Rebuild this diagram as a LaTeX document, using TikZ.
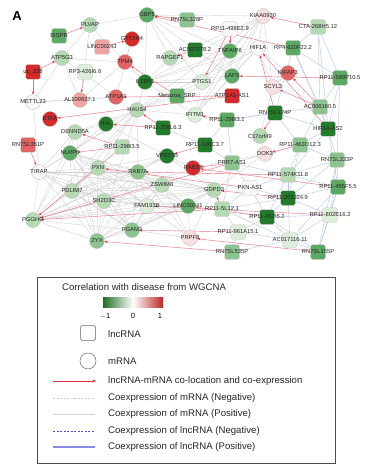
\documentclass[tikz,border=0pt]{standalone}
\usepackage{fontspec}
\setmainfont{Liberation Sans}
\usetikzlibrary{backgrounds,arrows.meta}
\definecolor{gA}{HTML}{237A2B}
\definecolor{gB}{HTML}{5DA862}
\definecolor{gC}{HTML}{8DC38F}
\definecolor{gD}{HTML}{B5D9B3}
\definecolor{gE}{HTML}{DCEDDA}
\definecolor{wN}{HTML}{F7F7F7}
\definecolor{rA}{HTML}{F8E0E0}
\definecolor{rB}{HTML}{EFA3A3}
\definecolor{rC}{HTML}{E06464}
\definecolor{rD}{HTML}{D42A2A}
\definecolor{redge}{HTML}{EC7480}
\definecolor{rtip}{HTML}{E03040}
\definecolor{bedge}{HTML}{B4C6EC}
\definecolor{gedgec}{HTML}{CFCFCF}
\definecolor{bdash}{HTML}{5050C8}
\definecolor{bsolid}{HTML}{8888E0}
\tikzset{
  lbl/.style={font=\fontsize{5.8}{6}\selectfont, text=black!85, inner sep=0},
  mr/.style={circle, draw=gray!55, line width=0.3pt, minimum size=15, inner sep=0},
  lr/.style={rectangle, rounded corners=1.5, draw=gray!55, line width=0.3pt, minimum size=14.5, inner sep=0},
  gedge/.style={draw=gedgec, line width=0.35pt},
  bedgest/.style={draw=bedge, line width=0.4pt},
  redgest/.style={draw=redge, line width=0.45pt, -{Stealth[length=3pt,width=2.4pt,color=rtip]}},
  legtxt/.style={font=\fontsize{9.6}{10}\selectfont, anchor=west, inner sep=0, text=black!85},
}
\newcommand{\mnode}[5]{\node[mr,fill=#2,label={[lbl]center:#5}] (#1) at (#3,#4) {};}
\newcommand{\lnode}[5]{\node[lr,fill=#2,label={[lbl]center:#5}] (#1) at (#3,#4) {};}
\begin{document}
\begin{tikzpicture}[x=1pt,y=-1pt]
\useasboundingbox (0,0) rectangle (366,470);
\node[font=\bfseries\fontsize{13}{13}\selectfont, inner sep=0] (lblA) at (17,16) {A};
% nodes
\mnode{plvap}{gD}{90}{25}{PLVAP}
\lnode{bispr}{gB}{59}{36}{BISPR}
\mnode{gbp5}{gB}{147}{15}{GBP5}
\lnode{rn328}{gC}{187}{20}{RN7SL328P}
\lnode{rp498}{wN}{230}{29}{RP11-498E2.9}
\mnode{kiaa}{rA}{263}{16}{KIAA0930}
\lnode{cta}{gD}{318}{27}{CTA-268H5.12}
\lnode{linc243}{rB}{102}{47}{LINC00243}
\mnode{gtf}{rD}{132}{39}{GTF2H4}
\mnode{atp5g}{gD}{62}{58}{ATP5G3}
\lnode{ac278}{gA}{195}{50}{AC007278.2}
\mnode{tnfaip}{gB}{230}{51}{TNFAIP6}
\mnode{hif}{wN}{258}{48}{HIF1A}
\lnode{rp4}{gB}{293}{48}{RP4-620F22.2}
\lnode{uc}{rD}{33}{72}{uc\_338}
\lnode{rp3}{gE}{85}{72}{RP3-426I6.6}
\mnode{tpm}{rC}{125}{62}{TPM4}
\mnode{rapgef}{gD}{170}{58}{RAPGEF1}
\mnode{kifap}{rC}{288}{73}{KIFAP3}
\mnode{lap}{gB}{232}{76}{LAP3}
\lnode{rp589}{gB}{340}{78}{RP11-589P10.5}
\mnode{il18}{gA}{145}{82}{IL18R1}
\mnode{ptgs}{gE}{202}{82}{PTGS1}
\mnode{scyl}{rA}{273}{87}{SCYL3}
\mnode{mettl}{wN}{33}{102}{METTL23}
\mnode{al109}{rB}{80}{100}{AL109927.1}
\mnode{atp1a}{rC}{116}{97}{ATP1A1}
\lnode{meta}{gB}{177}{96}{Metazoa\_SRP}
\lnode{atpas}{rD}{232}{96}{ATP1A1-AS1}
\lnode{ac160}{gC}{320}{107}{AC006160.5}
\mnode{etfa}{rD}{50}{119}{ETFA}
\mnode{haus}{gD}{137}{110}{HAUS4}
\mnode{ifitm}{gE}{195}{115}{IFITM1}
\lnode{rn124}{gA}{275}{113}{RN7SL124P}
\mnode{hal}{gA}{106}{124}{HAL}
\lnode{rp298b}{gB}{227}{120}{RP11-298I3.1}
\lnode{rp258}{gA}{163}{128}{RP11-258L6.3}
\mnode{denn}{gD}{75}{132}{DENND5A}
\lnode{hifas}{gA}{328}{129}{HIF1A-AS2}
\mnode{c17}{gD}{260}{136}{C17orf49}
\lnode{rn351}{rC}{28}{145}{RN7SL351P}
\lnode{rp298}{gD}{122}{147}{RP11-298I3.5}
\lnode{rp326}{gA}{205}{145}{RP11-326C3.7}
\lnode{rp463}{gC}{300}{145}{RP11-463O12.3}
\mnode{nlrp}{gB}{70}{153}{NLRP6}
\mnode{vps}{gA}{167}{156}{VPS37B}
\mnode{dok}{rA}{265}{154}{DOK3}
\lnode{rn333}{gC}{337}{160}{RN7SL333P}
\lnode{prr}{gC}{232}{163}{PRR7-AS1}
\mnode{pxn}{gD}{98}{168}{PXN}
\mnode{rab37}{rD}{193}{168}{RAB37}
\mnode{tirap}{wN}{39}{172}{TIRAP}
\mnode{rab7}{gC}{138}{172}{RAB7A}
\lnode{rp574}{gD}{288}{175}{RP11-574K11.8}
\mnode{zswim}{gD}{162}{185}{ZSWIM8}
\lnode{pxnas}{wN}{250}{188}{PXN-AS1}
\mnode{gdpd}{gD}{214}{190}{GDPD3}
\lnode{rp455}{gB}{338}{187}{RP11-455F5.5}
\mnode{pdlim}{gD}{72}{191}{PDLIM7}
\lnode{rp203}{gA}{288}{198}{RP11-203J24.9}
\mnode{sh2}{gD}{104}{201}{SH2D3C}
\mnode{fam}{gE}{147}{206}{FAM193B}
\mnode{linc341}{gB}{188}{206}{LINC00341}
\lnode{rp5l}{gD}{222}{209}{RP11-5L12.1}
\lnode{rp452}{gA}{267}{217}{RP11-452I5.2}
\lnode{rp802}{gE}{330}{215}{RP11-802E16.3}
\mnode{pgghg}{gD}{33}{220}{PGGHG}
\mnode{pgam}{gC}{132}{230}{PGAM2}
\lnode{rp961}{gE}{238}{232}{RP11-961A15.1}
\mnode{prpf}{rA}{190}{238}{PRPF8}
\lnode{ac116}{gE}{290}{240}{AC017116.11}
\mnode{zyx}{gC}{97}{241}{ZYX}
\lnode{rn535}{gC}{232}{252}{RN7SL535P}
\lnode{rn155}{gB}{318}{252}{RN7SL155P}
% edges
\begin{scope}[on background layer]
\fill[white] (0,0) rectangle (366,470);
\foreach \a/\b in {pgghg/tirap,pgghg/pdlim,pgghg/zyx,pgghg/nlrp,pgghg/pxn,pgghg/sh2,pgghg/fam,pgghg/pgam,pgghg/rab7,pgghg/zswim,pgghg/gdpd,pgghg/linc341,pgghg/haus,pgghg/denn,pgghg/vps,pgghg/rab37,
 zyx/pdlim,zyx/tirap,zyx/nlrp,zyx/pxn,zyx/sh2,zyx/fam,zyx/pgam,zyx/rab7,zyx/zswim,zyx/gdpd,zyx/linc341,zyx/haus,zyx/denn,
 tirap/pdlim,tirap/nlrp,tirap/pxn,tirap/sh2,tirap/rab7,tirap/zswim,tirap/fam,tirap/pgam,tirap/haus,tirap/denn,tirap/mettl,tirap/gdpd,
 pdlim/nlrp,pdlim/pxn,pdlim/sh2,pdlim/rab7,pdlim/zswim,pdlim/fam,pdlim/pgam,pdlim/gdpd,pdlim/linc341,pdlim/haus,pdlim/vps,
 nlrp/pxn,nlrp/sh2,nlrp/rab7,nlrp/zswim,nlrp/fam,nlrp/pgam,nlrp/haus,nlrp/gdpd,nlrp/denn,
 pxn/sh2,pxn/rab7,pxn/zswim,pxn/fam,pxn/pgam,pxn/haus,pxn/gdpd,pxn/linc341,pxn/vps,
 sh2/rab7,sh2/zswim,sh2/fam,sh2/pgam,sh2/gdpd,sh2/linc341,
 rab7/zswim,rab7/fam,rab7/pgam,rab7/gdpd,rab7/linc341,rab7/haus,rab7/prpf,
 zswim/fam,zswim/pgam,zswim/gdpd,zswim/linc341,zswim/prpf,
 fam/pgam,fam/linc341,fam/prpf,pgam/linc341,pgam/prpf,pgam/gdpd,linc341/prpf,linc341/gdpd,prpf/gdpd,
 mettl/al109,mettl/atp5g,mettl/atp1a,atp5g/plvap,atp5g/al109,atp5g/atp1a,atp5g/tpm,plvap/al109,plvap/gbp5,plvap/tpm,al109/atp1a,al109/tpm,
 gbp5/il18,gbp5/rapgef,gbp5/ptgs,gbp5/tnfaip,gbp5/lap,gbp5/kiaa,
 kiaa/hif,kiaa/tnfaip,kiaa/lap,kiaa/ptgs,kiaa/il18,kiaa/scyl,kiaa/rapgef,kiaa/haus,kiaa/ifitm,
 hif/tnfaip,hif/lap,hif/ptgs,hif/il18,hif/ifitm,hif/scyl,hif/kifap,hif/haus,
 tnfaip/lap,tnfaip/ptgs,tnfaip/il18,tnfaip/ifitm,tnfaip/rapgef,lap/ptgs,lap/il18,lap/ifitm,lap/haus,
 il18/ptgs,il18/rapgef,il18/haus,il18/ifitm,il18/tpm,ptgs/ifitm,ptgs/haus,ifitm/haus,
 haus/hal,haus/denn,hal/denn,hal/nlrp,hal/vps,tpm/gtf,gtf/atp1a,scyl/kifap,c17/dok,c17/scyl,dok/gdpd,dok/rab37,rab37/vps,rab37/gdpd,vps/gdpd,vps/rab7}
 \draw[gedge] (\a) -- (\b);
\foreach \a/\b in {cta/rp4,cta/rp589,cta/ac160,cta/hifas,rp4/rp589,rp4/ac160,rp4/rn124,rp4/hifas,
 rp589/ac160,rp589/hifas,rp589/rn333,ac160/hifas,ac160/rn124,ac160/rp463,rn124/hifas,rn124/rp463,rn124/rp298b,
 hifas/rp463,hifas/rn333,hifas/rp574,hifas/rp455,rp463/rn333,rp463/rp574,rp463/prr,rp463/rp203,
 rn333/rp574,rn333/rp455,rn333/rp203,rn333/rp802,rn333/rn155,rp574/rp455,rp574/rp203,rp574/pxnas,rp574/prr,rp574/rp452,
 rp455/rp203,rp455/rp802,rp455/rn155,rp455/ac116,rp203/pxnas,rp203/rp452,rp203/rp802,rp203/ac116,rp203/rp5l,
 pxnas/prr,pxnas/rp5l,pxnas/rp452,prr/rp326,prr/rp298b,prr/rp5l,rp5l/rp452,rp5l/rp961,rp5l/ac116,
 rp452/rp802,rp452/ac116,rp452/rn155,rp452/rp961,rp802/ac116,rp802/rn155,rp961/ac116,rp961/rn535,ac116/rn155,ac116/rn535,
 rp326/rp298b,rp326/rp258,rp298b/rn124}
 \draw[bedgest] (\a) -- (\b);
\foreach \a/\b in {bispr/plvap,uc/atp5g,uc/mettl,rp3/al109,linc243/gtf,rn328/gbp5,ac278/rapgef,meta/tpm,rp498/ptgs,rp498/tnfaip,
 atpas/atp1a,atpas/etfa,cta/kiaa,hifas/hif,ac160/kifap,ac160/scyl,rp4/gbp5,rp589/lap,rn124/c17,rn124/hif,rp463/dok,
 rp298b/ifitm,rp258/haus,rp258/hal,rp298/nlrp,rp298/denn,rp298/pgghg,rn351/tirap,rp326/vps,prr/rab37,prr/pgghg,
 pxnas/pxn,rp574/rab7,rp5l/gdpd,rp5l/pgghg,rp452/linc341,rp961/pgam,rn535/zyx,rn155/prpf,rp802/fam,rp455/rab37,rp203/gdpd}
 \draw[redgest] (\a) -- (\b);
\end{scope}
% legend
\draw[black!70, line width=0.8pt] (37,277) rectangle (335,463);
\node[legtxt] (legtitle) at (62,287) {Correlation with disease from WGCNA};
\shade[left color=gA!90!black, right color=rD!90!black, middle color=white] (103,297) rectangle (163,307);
\node[font=\fontsize{7.5}{8}\selectfont, inner sep=0] (tk1) at (105,316) {$-$1};
\node[font=\fontsize{7.5}{8}\selectfont, inner sep=0] (tk2) at (133,316) {0};
\node[font=\fontsize{7.5}{8}\selectfont, inner sep=0] (tk3) at (160,316) {1};
\node[rectangle, rounded corners=1.5, draw=black!60, line width=0.5pt, fill=white, minimum size=15] (legsq) at (88,333) {};
\node[legtxt] (leglnc) at (108,334) {lncRNA};
\node[circle, draw=black!60, line width=0.5pt, fill=white, minimum size=16] (legci) at (88,361) {};
\node[legtxt] (legm) at (108,361) {mRNA};
\coordinate (r1) at (53,381); \coordinate (r2) at (96,381);
\draw[draw=rtip, line width=0.8pt, -{Stealth[length=3.5pt,width=3pt]}] (r1) -- (r2);
\node[legtxt] (legr) at (108,381) {lncRNA-mRNA co-location and co-expression};
\coordinate (g1) at (53,398); \coordinate (g2) at (95,398);
\draw[draw=gray!40, line width=0.6pt, dash pattern=on 2pt off 1.5pt] (g1) -- (g2);
\node[legtxt] (legmn) at (108,398) {Coexpression of mRNA (Negative)};
\coordinate (h1) at (53,414); \coordinate (h2) at (95,414);
\draw[draw=gray!35, line width=1pt] (h1) -- (h2);
\node[legtxt] (legmp) at (108,414) {Coexpression of mRNA (Positive)};
\coordinate (b1) at (53,431); \coordinate (b2) at (95,431);
\draw[draw=bdash, line width=0.6pt, dash pattern=on 2pt off 1.5pt] (b1) -- (b2);
\node[legtxt] (legln) at (108,431) {Coexpression of lncRNA (Negative)};
\coordinate (c1) at (53,447); \coordinate (c2) at (95,447);
\draw[draw=bsolid, line width=1.2pt] (c1) -- (c2);
\node[legtxt] (leglp) at (108,447) {Coexpression of lncRNA (Positive)};
\end{tikzpicture}
\end{document}
